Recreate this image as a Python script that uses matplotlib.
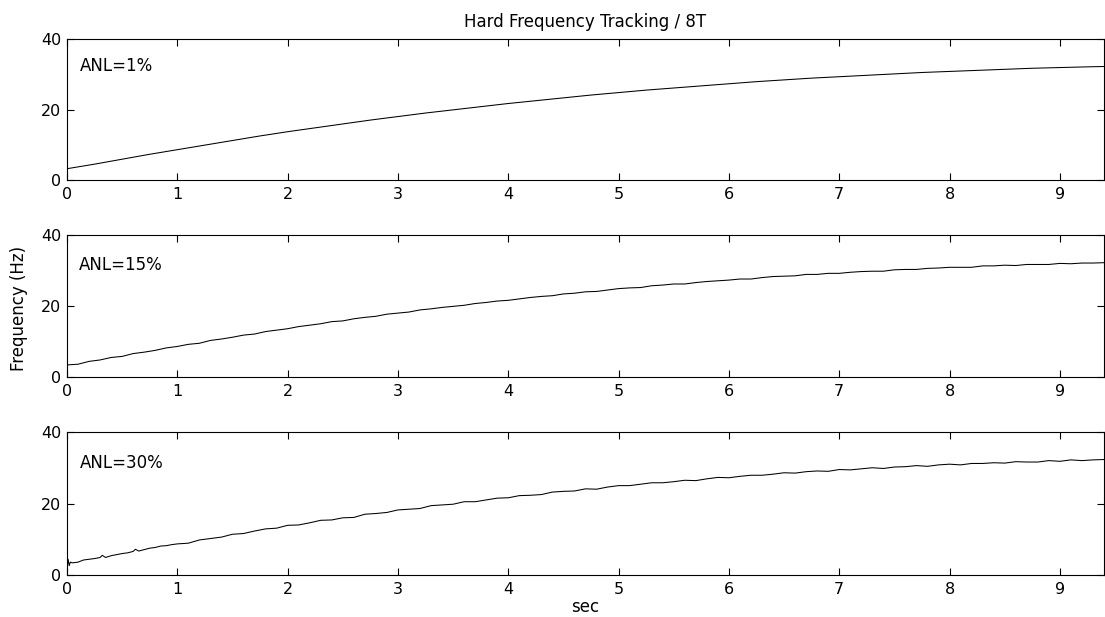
import numpy as np
import matplotlib
matplotlib.use('Agg')
import matplotlib.pyplot as plt

plt.rcParams['font.family'] = ['DejaVu Sans']

# ANL = 1 % (smooth), read every 0.25 s
t_1 = [0, 0.25, 0.5, 0.75, 1, 1.25, 1.5, 1.75, 2, 2.25, 2.5, 2.75, 3, 3.25, 3.5, 3.75,
       4, 4.25, 4.5, 4.75, 5, 5.25, 5.5, 5.75, 6, 6.25, 6.5, 6.75, 7, 7.25, 7.5, 7.75,
       8, 8.25, 8.5, 8.75, 9, 9.25, 9.4]
f_1 = [3.2, 4.5, 5.9, 7.3, 8.6, 9.9, 11.2, 12.5, 13.7, 14.8, 15.9, 17.0, 18.0, 19.0, 19.9, 20.8,
       21.7, 22.5, 23.3, 24.1, 24.8, 25.5, 26.1, 26.7, 27.3, 27.9, 28.4, 28.9, 29.3, 29.7, 30.1, 30.5,
       30.8, 31.1, 31.4, 31.7, 31.9, 32.1, 32.2]

# ANL = 15 %, read every 0.1 s from 0 to 9.4
t_15 = np.round(np.arange(0, 9.45, 0.1), 2)
f_15 = [3.4, 3.6, 4.4, 4.8, 5.5, 5.8, 6.6, 7.0, 7.5, 8.2,
        8.6, 9.2, 9.5, 10.3, 10.7, 11.2, 11.8, 12.1, 12.8, 13.2,
        13.6, 14.2, 14.6, 15.0, 15.6, 15.8, 16.4, 16.8, 17.1, 17.7,
        18.0, 18.3, 18.9, 19.2, 19.6, 19.9, 20.2, 20.7, 21.0, 21.4,
        21.6, 22.0, 22.4, 22.7, 22.9, 23.4, 23.6, 24.0, 24.1, 24.5,
        24.9, 25.1, 25.2, 25.7, 25.9, 26.2, 26.2, 26.6, 26.9, 27.1,
        27.3, 27.6, 27.6, 28.0, 28.3, 28.4, 28.5, 28.9, 28.9, 29.2,
        29.2, 29.5, 29.7, 29.8, 29.8, 30.2, 30.3, 30.3, 30.6, 30.7,
        30.9, 30.9, 30.9, 31.3, 31.3, 31.5, 31.4, 31.7, 31.7, 31.7,
        32.0, 31.9, 32.1, 32.1, 32.2]

# ANL = 30 %, noisier start read more densely
t_30_early = [0.0, 0.01, 0.02, 0.03, 0.05, 0.1, 0.15, 0.2, 0.25, 0.3, 0.32, 0.35, 0.4,
              0.45, 0.5, 0.55, 0.6, 0.62, 0.65, 0.7, 0.75, 0.8, 0.85, 0.9, 0.95]
f_30_early = [1.8, 4.4, 2.6, 3.6, 3.4, 3.6, 4.2, 4.4, 4.6, 4.9, 5.5, 4.9, 5.4,
              5.7, 6.0, 6.2, 6.6, 7.2, 6.7, 7.1, 7.5, 7.7, 8.1, 8.2, 8.5]
t_30_late = np.round(np.arange(1.0, 9.45, 0.1), 2)
f_30_late = [8.7, 8.9, 9.8, 10.2, 10.6, 11.4, 11.6, 12.3, 12.9, 13.1,
             13.9, 14.0, 14.6, 15.3, 15.4, 16.0, 16.1, 17.0, 17.2, 17.5,
             18.2, 18.4, 18.6, 19.4, 19.6, 19.8, 20.5, 20.5, 21.0, 21.5,
             21.6, 22.2, 22.3, 22.5, 23.2, 23.4, 23.5, 24.1, 24.0, 24.6,
             25.0, 25.0, 25.4, 25.8, 25.8, 26.1, 26.5, 26.4, 26.9, 27.3,
             27.2, 27.6, 27.9, 27.9, 28.2, 28.6, 28.5, 28.9, 29.1, 29.0,
             29.5, 29.4, 29.7, 30.0, 29.8, 30.2, 30.3, 30.6, 30.4, 30.8,
             31.0, 30.8, 31.2, 31.2, 31.4, 31.3, 31.7, 31.6, 31.6, 32.0,
             31.8, 32.2, 32.0, 32.2, 32.3]
t_30 = np.concatenate([t_30_early, t_30_late])
f_30 = np.concatenate([f_30_early, f_30_late])

labels = ['ANL=1%', 'ANL=15%', 'ANL=30%']
label_xy = [(0.118, 30.8), (0.109, 30.1), (0.118, 30.0)]
series = [(t_1, f_1), (t_15, f_15), (t_30, f_30)]

x_ticks = list(range(10))
y_ticks = [0, 20, 40]

fig = plt.figure(figsize=(11.05, 6.17), dpi=100)
W, H = 1105, 617
boxes = [(39, 180), (235, 377), (432, 575)]  # top/bottom pixel rows of each panel

axes = []
for (top, bot), (t, f), lab, pos in zip(boxes, series, labels, label_xy):
    ax = fig.add_axes([67 / W, 1 - bot / H, (1104 - 67) / W, (bot - top) / H])
    ax.plot(t, f, color='black', linewidth=0.75)
    ax.set_xlim(0, 9.4)
    ax.set_ylim(0, 40)
    ax.set_xticks(x_ticks)
    ax.set_yticks(y_ticks)
    ax.tick_params(direction='in', length=5, width=0.8, top=True, right=True,
                   labelsize=11.5)
    ax.tick_params(axis='x', pad=5)
    ax.tick_params(axis='y', pad=4)
    for s in ax.spines.values():
        s.set_linewidth(0.8)
    ax.text(pos[0], pos[1], lab, fontsize=12, ha='left', va='baseline')
    axes.append(ax)

axes[0].set_title('Hard Frequency Tracking / 8T', fontsize=12, pad=8.5)
axes[1].set_ylabel('Frequency (Hz)', fontsize=12)
axes[1].yaxis.set_label_coords(-0.038, 0.48)
axes[2].set_xlabel('sec', fontsize=12)
axes[2].xaxis.set_label_coords(0.5, -0.16)

fig.savefig('out.png', dpi=100)
